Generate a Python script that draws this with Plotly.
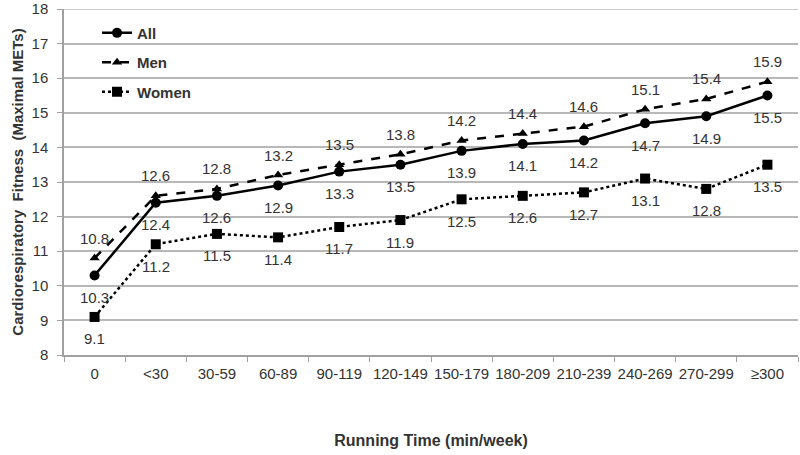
import plotly.graph_objects as go

categories = ["0", "<30", "30-59", "60-89", "90-119", "120-149", "150-179",
              "180-209", "210-239", "240-269", "270-299", "≥300"]
all_vals = [10.3, 12.4, 12.6, 12.9, 13.3, 13.5, 13.9, 14.1, 14.2, 14.7, 14.9, 15.5]
men_vals = [10.8, 12.6, 12.8, 13.2, 13.5, 13.8, 14.2, 14.4, 14.6, 15.1, 15.4, 15.9]
women_vals = [9.1, 11.2, 11.5, 11.4, 11.7, 11.9, 12.5, 12.6, 12.7, 13.1, 12.8, 13.5]
y_ticks = [8, 9, 10, 11, 12, 13, 14, 15, 16, 17, 18]

TXT = "#333333"
GRID = "#b8b8b8"
FONT = "Liberation Sans, Arial, sans-serif"

fig = go.Figure()
fig.add_trace(go.Scatter(x=categories, y=all_vals, name="All", mode="lines+markers",
                         line=dict(color="black", width=2.5),
                         marker=dict(symbol="circle", size=10, color="black"),
                         legendgroup="a"))
fig.add_trace(go.Scatter(x=categories, y=men_vals, name="Men", mode="lines+markers",
                         line=dict(color="black", width=2.5, dash="dash"),
                         marker=dict(symbol="triangle-up", size=9, color="black"),
                         legendgroup="m"))
fig.add_trace(go.Scatter(x=categories, y=women_vals, name="Women", mode="lines+markers",
                         line=dict(color="black", width=2.5, dash="dot"),
                         marker=dict(symbol="square", size=10, color="black"),
                         legendgroup="w"))

# top gridline (plotly clips gridlines at the range edge)
fig.add_hline(y=max(y_ticks), line=dict(color=GRID, width=1.5), layer="below")

anns = []
for c, v in zip(categories, men_vals):
    anns.append(dict(x=c, y=v, text=f"{v:.1f}", showarrow=False, yshift=20,
                     font=dict(size=15, color=TXT, family=FONT)))
for c, v in zip(categories, all_vals):
    anns.append(dict(x=c, y=v, text=f"{v:.1f}", showarrow=False, yshift=-22,
                     font=dict(size=15, color=TXT, family=FONT)))
for c, v in zip(categories, women_vals):
    anns.append(dict(x=c, y=v, text=f"{v:.1f}", showarrow=False, yshift=-22,
                     font=dict(size=15, color=TXT, family=FONT)))
for a in anns:
    fig.add_annotation(**a)

fig.update_layout(
    width=800, height=455,
    margin=dict(l=64, r=2, t=9, b=100, autoexpand=False),
    plot_bgcolor="white", paper_bgcolor="white",
    font=dict(family=FONT, color=TXT, size=15),
    showlegend=True,
    legend=dict(x=0.045, y=0.978, xanchor="left", yanchor="top",
                font=dict(size=15, color=TXT, family=FONT, weight="bold"),
                tracegroupgap=7, bgcolor="rgba(0,0,0,0)"),
    xaxis=dict(
        type="category", tickson="boundaries", ticks="outside", ticklen=5,
        tickcolor="#a0a0a0", showline=True, linecolor="#a0a0a0", linewidth=1.5,
        showgrid=False, tickfont=dict(size=15, color=TXT), tickangle=0,
        automargin=False, ticklabelstandoff=4,
        title=dict(text="<b>Running Time (min/week)</b>", font=dict(size=16, color=TXT),
                   standoff=54),
        range=[-0.5, 11.5],
    ),
    yaxis=dict(
        range=[8, 18], tickmode="array", tickvals=y_ticks, ticks="outside", ticklen=5,
        tickcolor="#a0a0a0", automargin=False, ticklabeloverflow="allow",
        showline=True, linecolor="#a0a0a0", linewidth=1.5,
        showgrid=True, gridcolor=GRID, gridwidth=1.5,
        tickfont=dict(size=15, color=TXT), ticklabelstandoff=6,
        title=dict(text="<b>Cardiorespiratory  Fitness  (Maximal METs)</b>",
                   font=dict(size=15, color=TXT), standoff=4),
        zeroline=False,
    ),
)

fig.write_html("out.html", config={"displayModeBar": False},
               post_script="document.body.style.margin='0px';")
